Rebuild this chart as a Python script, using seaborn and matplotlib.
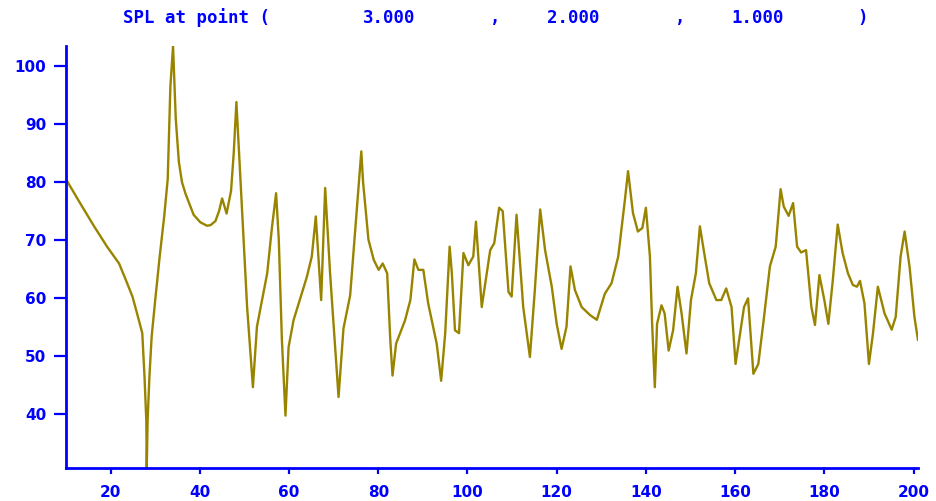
import matplotlib
matplotlib.use("Agg")
import matplotlib.pyplot as plt
import seaborn as sns

# Frequency (Hz) and sound pressure level (dB) at the receiver point
freq = [10, 13.0, 16.3, 19.2, 21.9, 23.5, 24.9, 26.0, 27.1, 27.6, 28.0, 28.1, 28.3,
        28.7, 29.2, 30.0, 31.0, 32.0, 32.8, 33.4, 33.8, 34.0, 34.3, 34.6, 35.3, 36.0, 36.8,
        38.6, 40.1, 41.6, 42.4, 43.5, 44.3, 45.0, 46.0, 47.0, 47.6, 48.2, 48.6, 49.5, 50.6,
        51.9, 52.8, 55.1, 56.2, 57.1, 57.7, 58.4, 59.2, 59.9, 61.0, 64.0, 65.1, 66.0, 67.2,
        68.1, 69.2, 71.1, 72.2, 73.7, 75.2, 76.2, 76.6, 77.8, 79.0, 80.1, 81.0, 82.0, 82.7,
        83.2, 84.0, 86.0, 87.2, 88.1, 89.0, 90.1, 91.2, 93.1, 94.1, 95.0, 96.0, 96.5, 97.2,
        98.1, 99.1, 100.2, 101.3, 101.9, 103.2, 105.1, 106.0, 107.1, 107.9, 109.2, 109.9,
        111.0, 112.5, 114.0, 115.1, 116.3, 117.4, 118.9, 120.0, 121.1, 122.2, 123.1, 124.1,
        125.6, 127.5, 129.0, 130.8, 132.3, 133.8, 135.3, 136.0, 137.1, 138.2, 139.2, 140.0,
        140.9, 141.4, 142.0, 142.5, 143.5, 144.2, 145.1, 146.1, 147.1, 148.0, 149.1, 150.1,
        151.2, 152.1, 153.2, 154.2, 155.8, 156.9, 158.0, 159.2, 160.1, 161.1, 162.0, 162.9,
        164.1, 165.2, 166.3, 167.8, 169.1, 170.2, 170.9, 172.0, 173.0, 173.9, 174.8, 175.9,
        177.1, 177.9, 178.9, 180.0, 180.9, 181.9, 183.0, 184.1, 185.3, 186.4, 187.3, 188.0,
        189.0, 190.0, 190.9, 192.0, 193.5, 195.1, 196.0, 197.1, 198.0, 199.1, 200.2, 201.0]

spl = [80.5, 76.6, 72.4, 68.9, 66.0, 63.0, 60.3, 57.2, 54.0, 46.5, 39.0, 30.9, 39.0,
       46.5, 53.4, 59.7, 67.2, 74.0, 80.5, 96.5, 101.0, 103.4, 97.0, 91.0, 83.5, 80.0, 78.0,
       74.4, 73.1, 72.5, 72.6, 73.3, 75.0, 77.2, 74.6, 78.5, 85.0, 93.8, 88.0, 74.7, 58.5,
       44.7, 55.1, 64.3, 72.4, 78.1, 70.1, 52.8, 39.8, 51.6, 56.2, 63.7, 67.2, 74.1, 59.7,
       79.0, 64.3, 43.0, 54.8, 60.5, 75.3, 85.3, 80.0, 70.1, 66.6, 64.9, 66.0, 64.3, 52.8,
       46.7, 52.2, 56.2, 59.7, 66.7, 64.9, 64.9, 59.1, 52.2, 45.8, 53.9, 68.9, 64.3, 54.5,
       54.0, 67.8, 65.7, 67.2, 73.2, 58.5, 68.3, 69.5, 75.6, 75.0, 61.1, 60.3,
       74.4, 58.5, 49.9, 61.4, 75.3, 68.3, 62.0, 55.6, 51.3, 55.1, 65.5, 61.4,
       58.5, 57.1, 56.3, 60.8, 62.6, 67.2, 77.0, 81.9, 74.7, 71.5, 72.1, 75.6,
       67.2, 55.6, 44.7, 55.6, 58.8, 57.4, 51.0, 54.5, 62.0, 57.4, 50.5, 59.7,
       64.3, 72.4, 67.2, 62.6, 59.7, 59.7, 61.7, 58.5, 48.7, 53.9, 58.5, 60.0,
       47.0, 48.7, 55.6, 65.5, 68.9, 78.8, 75.8, 74.2, 76.4, 68.9, 67.9, 68.3,
       58.5, 55.4, 64.0, 59.7, 55.6, 63.1, 72.7, 67.8, 64.3, 62.3, 62.0, 63.0,
       59.1, 48.7, 53.9, 62.0, 57.4, 54.6, 56.8, 67.2, 71.5, 65.5, 56.8, 52.8]

x_ticks = [20, 40, 60, 80, 100, 120, 140, 160, 180, 200]
y_ticks = [40, 50, 60, 70, 80, 90, 100]

point = ["3.000", "2.000", "1.000"]

BLUE = "#0000ff"
LINE = "#998400"
W, H = 937, 501

sns.set_style("white")
plt.rcParams["font.family"] = ["DejaVu Sans"]

fig = plt.figure(figsize=(W / 100, H / 100), dpi=100)
ax = fig.add_axes([66 / W, 33 / H, (918 - 66) / W, (468 - 46) / H])

sns.lineplot(x=freq, y=spl, ax=ax, color=LINE, linewidth=1.7, sort=False)

ax.set_xlim(10, 201)
ax.set_ylim(30.78, 103.45)
ax.set_xticks(x_ticks)
ax.set_yticks(y_ticks)
ax.set_xlabel("")
ax.set_ylabel("")

for side in ("top", "right"):
    ax.spines[side].set_visible(False)
for side in ("left", "bottom"):
    ax.spines[side].set_color(BLUE)
    ax.spines[side].set_linewidth(2)

ax.tick_params(axis="y", direction="out", length=9, width=1.6, color=BLUE,
               labelcolor=BLUE, pad=5, left=True)
ax.tick_params(axis="x", direction="out", length=4, width=1.6, color=BLUE,
               labelcolor=BLUE, pad=8, bottom=True)
for lab in ax.get_xticklabels() + ax.get_yticklabels():
    lab.set_fontweight("bold")
    lab.set_fontsize(11)

# Title assembled from its fields on a fixed character grid
title_parts = [("SPL at point (", 123), (point[0], 363), (",", 490),
               (point[1], 547), (",", 675), (point[2], 731), (")", 857)]
for txt, px in title_parts:
    fig.text(px / W, 1 - 18 / H, txt, ha="left", va="center", color=BLUE,
             fontsize=12.5, fontweight="bold", family="DejaVu Sans Mono")

fig.savefig("out.png", dpi=100, facecolor="white")
